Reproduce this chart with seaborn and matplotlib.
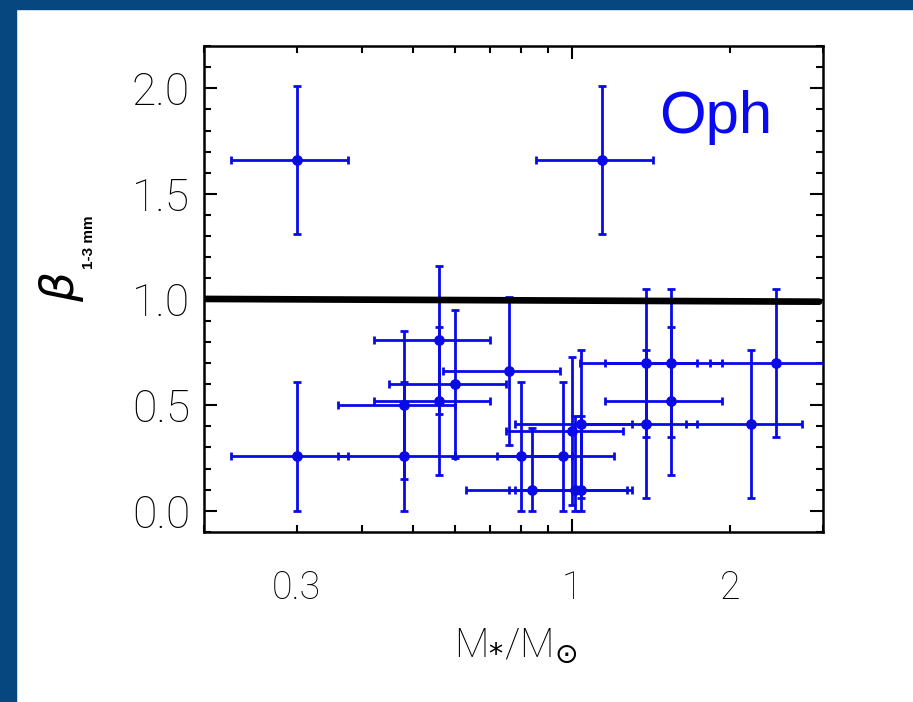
import numpy as np
import pandas as pd
import matplotlib
matplotlib.use("Agg")
import matplotlib.pyplot as plt
import seaborn as sns
from matplotlib.patches import Rectangle

# ---- data ----
mass = [0.30, 1.14, 0.30, 0.48, 0.48, 0.56, 0.56, 0.60, 0.76, 0.80, 0.84,
        0.96, 1.00, 1.04, 1.015, 1.04, 1.38, 1.38, 1.54, 1.54, 2.19, 2.44]
beta = [1.66, 1.66, 0.26, 0.50, 0.26, 0.81, 0.52, 0.60, 0.66, 0.26, 0.10,
        0.26, 0.38, 0.41, 0.10, 0.10, 0.70, 0.41, 0.70, 0.52, 0.41, 0.70]
mass_err = [0.075, 0.285, 0.075, 0.12, 0.12, 0.14, 0.14, 0.15, 0.19, 0.20, 0.21,
            0.24, 0.25, 0.26, 0.255, 0.26, 0.345, 0.345, 0.385, 0.385, 0.545, 0.61]
beta_err_lo = [0.35, 0.35, 0.26, 0.35, 0.26, 0.35, 0.35, 0.35, 0.35, 0.26, 0.10,
               0.26, 0.35, 0.35, 0.10, 0.10, 0.35, 0.35, 0.35, 0.35, 0.35, 0.35]
beta_err_hi = [0.35, 0.35, 0.35, 0.35, 0.35, 0.35, 0.35, 0.35, 0.35, 0.35, 0.29,
               0.35, 0.35, 0.35, 0.35, 0.35, 0.35, 0.35, 0.35, 0.35, 0.35, 0.35]
line_x = [0.2, 2.95]
line_y = [1.003, 0.99]

x_major = [1]
x_minor = [0.2, 0.3, 0.4, 0.5, 0.6, 0.7, 0.8, 0.9, 2, 3]
x_minor_labels = ['', '0.3', '', '', '', '', '', '', '2', '']
y_major = [0.0, 0.5, 1.0, 1.5, 2.0]
y_labels = ['0.0', '0.5', '1.0', '1.5', '2.0']

df = pd.DataFrame({'mass': mass, 'beta': beta})

sns.set_theme(style='ticks')
plt.rcParams['font.family'] = ['Roboto', 'DejaVu Sans']
plt.rcParams['mathtext.fontset'] = 'dejavusans'

W, H = 913, 702
fig = plt.figure(figsize=(W / 100, H / 100), dpi=100, facecolor='white')

# dark blue slide border
blue_frame = '#05477E'
fig.patches.append(Rectangle((0, 0), 16 / W, 1, transform=fig.transFigure,
                             color=blue_frame, zorder=-10))
fig.patches.append(Rectangle((0, 1 - 9 / H), 1, 9 / H, transform=fig.transFigure,
                             color=blue_frame, zorder=-10))

ax = fig.add_axes([204 / W, 1 - 532 / H, (823 - 204) / W, (532 - 46) / H])
ax.set_facecolor('white')
ax.set_xscale('log')

blue = '#0A0AE8'
ax.errorbar(mass, beta, xerr=mass_err, yerr=[beta_err_lo, beta_err_hi],
            fmt='none', ecolor=blue, elinewidth=2.0, capsize=2.9, capthick=2.0,
            zorder=3)
sns.scatterplot(data=df, x='mass', y='beta', ax=ax, color=blue, s=60,
                edgecolor=blue, linewidth=0, zorder=4, legend=False)
sns.lineplot(x=line_x, y=line_y, ax=ax, color='black', linewidth=4.8, zorder=5)

ax.set_xlim(0.2, 2.95)
ax.set_ylim(-0.1, 2.2)

ax.set_xticks(x_major, ['1'])
ax.set_xticks(x_minor, x_minor_labels, minor=True)
ax.set_yticks(y_major, y_labels)
ax.set_yticks(np.round(np.arange(-0.1, 2.21, 0.1), 2), minor=True)
ax.yaxis.set_minor_formatter(matplotlib.ticker.NullFormatter())

ax.tick_params(which='both', direction='in', top=True, right=True,
               color='black', width=1.5)
ax.tick_params(which='major', length=9.5)
ax.tick_params(which='minor', length=5)
ax.tick_params(axis='x', which='both', labelsize=27, pad=27)
ax.tick_params(axis='y', which='both', labelsize=32, pad=10)
for lab in ax.get_xticklabels(which='both') + ax.get_yticklabels():
    lab.set_fontweight('light')
    lab.set_color('black')

for sp in ax.spines.values():
    sp.set_linewidth(1.8)
    sp.set_color('black')
    sp.set_visible(True)

ax.set_xlabel('')
ax.set_ylabel('')

# axis titles
fig.text(516 / W, 1 - 646 / H, r'M$_{*}$/M$_{\odot}$', ha='center', va='center',
         fontsize=29, fontweight='light', color='black')
fig.text(62 / W, 1 - 287 / H, r'$\beta$', ha='center', va='center', rotation=90,
         fontsize=34, color='black')
fig.text(89 / W, 1 - 242 / H, '1-3 mm', ha='center', va='center', rotation=90,
         fontsize=11, fontweight='bold', family=['Liberation Sans', 'DejaVu Sans'],
         color='black')

ax.text(0.736, 0.821, 'Oph', transform=ax.transAxes, ha='left', va='baseline',
        fontsize=43, color='#0A0AF0', family=['Liberation Sans', 'DejaVu Sans'])

fig.savefig('out.png', dpi=100, facecolor=fig.get_facecolor())
